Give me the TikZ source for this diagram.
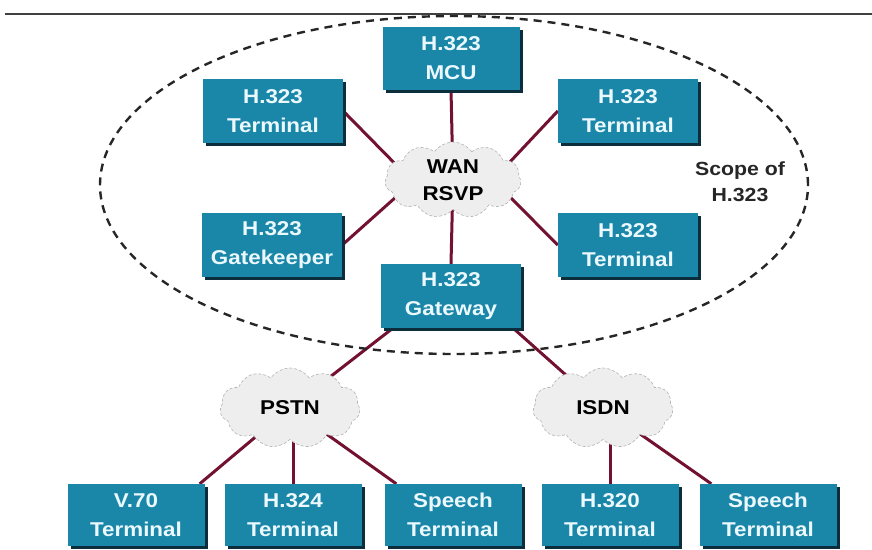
\documentclass[tikz,border=0pt]{standalone}
\usepackage{fontspec}
\newfontfamily\dfont{Liberation Sans}[FakeStretch=1.12]
\usetikzlibrary{shapes.symbols,shadows,calc}
\pgfdeclarelayer{background}
\pgfsetlayers{background,main}
\definecolor{boxteal}{RGB}{26,135,168}
\definecolor{boxshadow}{RGB}{12,45,60}
\definecolor{linkred}{RGB}{115,18,48}
\tikzset{
  netbox/.style={rectangle, fill=boxteal, text=white!92!cyan, minimum width=140pt, minimum height=64pt,
    align=center, inner sep=0pt, font=\dfont\bfseries\fontsize{20}{29}\selectfont,
    drop shadow={shadow xshift=3pt, shadow yshift=-3pt, fill=boxshadow, opacity=1}},
  netcloud/.style={cloud, cloud puffs=11, cloud puff arc=110, aspect=1.7, fill=gray!13, draw=gray!60,
    densely dashed, line width=0.6pt, minimum width=136pt, minimum height=76pt, inner sep=0pt,
    align=center, font=\dfont\bfseries\fontsize{20}{27}\selectfont, text=black},
  link/.style={draw=linkred, line width=3pt},
  scopeline/.style={draw=black!85, line width=2.4pt, dash pattern=on 8pt off 6pt},
  scopetext/.style={align=center, font=\dfont\bfseries\fontsize{19}{26}\selectfont, text=black!85}
}
\begin{document}
\begin{tikzpicture}[x=1pt,y=-1pt]
\useasboundingbox (0,0) rectangle (872,549);
% top rule
\coordinate (ruleA) at (5,14);
\coordinate (ruleB) at (872,14);
\draw[line width=2pt, black!75] (ruleA) -- (ruleB);
% scope ellipse
\node[draw=none, minimum width=0pt] (scopec) at (454,185) {};
\draw[scopeline] (scopec.center) ellipse [x radius=354pt, y radius=169pt];
\node[scopetext] (scope) at (740,182) {Scope of\\H.323};
% clouds
\node[netcloud] (wan) at (453,180) {WAN\\RSVP};
\node[netcloud, minimum width=140pt, minimum height=80pt] (pstn) at (290,408) {PSTN};
\node[netcloud, minimum width=140pt, minimum height=80pt] (isdn) at (603,408) {ISDN};
% boxes
\node[netbox, minimum width=137pt, minimum height=63pt] (mcu) at (451,58) {H.323\\MCU};
\node[netbox] (tl) at (273,111) {H.323\\Terminal};
\node[netbox] (tr) at (628,111) {H.323\\Terminal};
\node[netbox] (gk) at (272,245) {H.323\\Gatekeeper};
\node[netbox] (rt) at (628,245) {H.323\\Terminal};
\node[netbox] (gw) at (451,296) {H.323\\Gateway};
\node[netbox, minimum width=137pt, minimum height=62pt] (v70) at (136,515) {V.70\\Terminal};
\node[netbox, minimum width=137pt, minimum height=62pt] (h324) at (293,515) {H.324\\Terminal};
\node[netbox, minimum width=137pt, minimum height=62pt] (sp1) at (453,515) {Speech\\Terminal};
\node[netbox, minimum width=137pt, minimum height=62pt] (h320) at (610,515) {H.320\\Terminal};
\node[netbox, minimum width=137pt, minimum height=62pt] (sp2) at (768,515) {Speech\\Terminal};
% connectors
\begin{pgfonlayer}{background}
\draw[link] (mcu.south) -- (wan.center);
\draw[link] (gw.north) -- (wan.center);
\draw[link] (tl.east) -- ($(wan.center)+(-42,0)$);
\draw[link] (tr.west) -- ($(wan.center)+(40,0)$);
\draw[link] (gk.east) -- ($(wan.center)+(-38,0)$);
\draw[link] (rt.west) -- ($(wan.center)+(40,0)$);
\draw[link] ($(gw.south west)+(12,0)$) -- (pstn.center);
\draw[link] ($(gw.south east)+(-8,0)$) -- (isdn.center);
\draw[link] ($(v70.north east)+(-5,0)$) -- (pstn.center);
\draw[link] (h324.north) -- (h324.north |- pstn.center);
\draw[link] ($(sp1.north west)+(12,0)$) -- (pstn.center);
\draw[link] (h320.north) -- (h320.north |- isdn.center);
\draw[link] ($(sp2.north west)+(12,0)$) -- (isdn.center);
\end{pgfonlayer}
\end{tikzpicture}
\end{document}
